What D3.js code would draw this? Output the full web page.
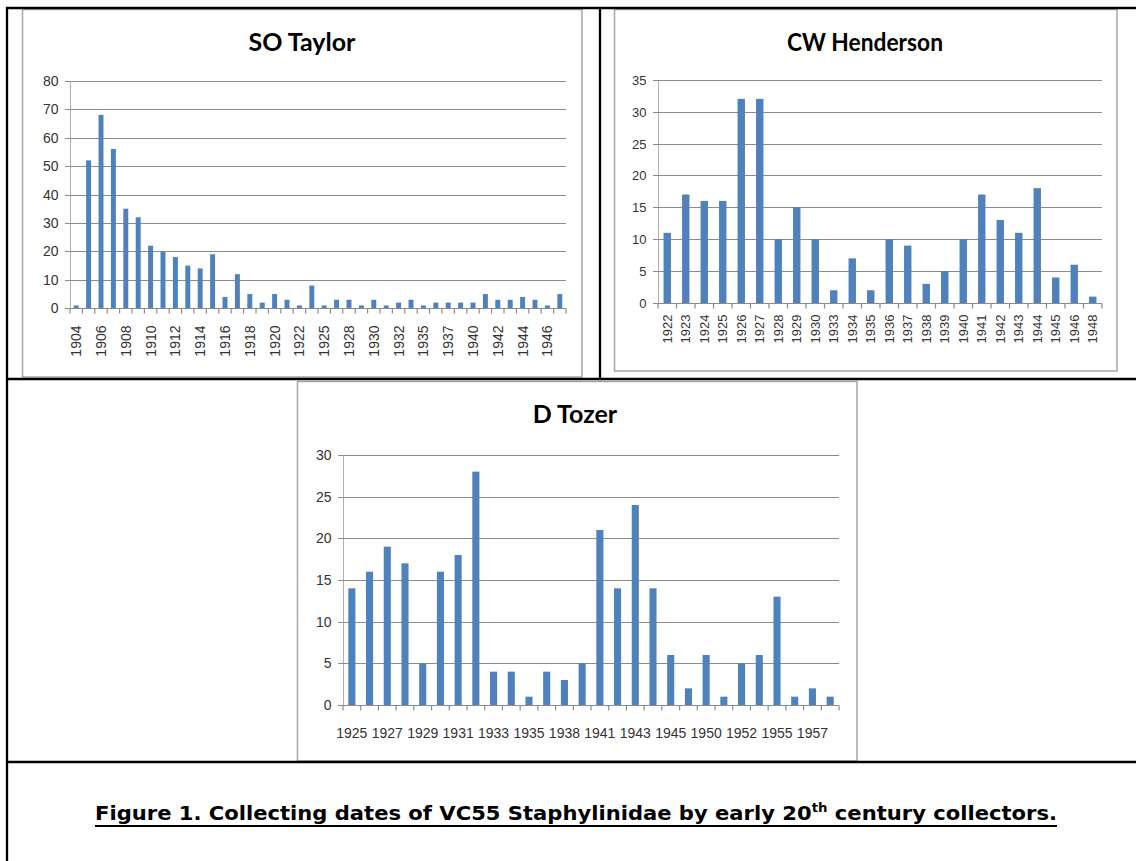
<!DOCTYPE html>
<html><head><meta charset="utf-8">
<script src="https://cdn.jsdelivr.net/npm/d3@7"></script>
<style>body{margin:0;background:#fff} svg{display:block}</style>
</head><body><svg id="c" width="1136" height="861"></svg>
<script>
// ---------- data ----------
const taylorYears = [1904,1905,1906,1907,1908,1909,1910,1911,1912,1913,1914,1915,1916,1917,1918,1919,1920,1921,1922,1923,1925,1926,1928,1929,1930,1931,1932,1934,1935,1936,1937,1938,1940,1941,1942,1943,1944,1945,1946,1947];
const taylorCounts = [1,52,68,56,35,32,22,20,18,15,14,19,4,12,5,2,5,3,1,8,1,3,3,1,3,1,2,3,1,2,2,2,2,5,3,3,4,3,1,5];
const taylorTicks = [0,10,20,30,40,50,60,70,80];

const hendersonYears = [1922,1923,1924,1925,1926,1927,1928,1929,1930,1933,1934,1935,1936,1937,1938,1939,1940,1941,1942,1943,1944,1945,1946,1948];
const hendersonCounts = [11,17,16,16,32,32,10,15,10,2,7,2,10,9,3,5,10,17,13,11,18,4,6,1];
const hendersonTicks = [0,5,10,15,20,25,30,35];

const tozerYears = [1925,1926,1927,1928,1929,1930,1931,1932,1933,1934,1935,1936,1938,1939,1941,1942,1943,1944,1945,1946,1950,1951,1952,1953,1955,1956,1957,1958];
const tozerCounts = [14,16,19,17,5,16,18,28,4,4,1,4,3,5,21,14,24,14,6,2,6,1,5,6,13,1,2,1];
const tozerTicks = [0,5,10,15,20,25,30];

const chartTitles = ["SO Taylor","CW Henderson","D Tozer"];
const captionText = ["Figure 1. Collecting dates of VC55 Staphylinidae by early 20","th"," century collectors."];

// ---------- drawing ----------
const svg = d3.select("#c");
const BAR = "#4f81bd", GRID = "#8c8c8c", YAX = "#b0b0b0", TXT = "#333";
const FONT = "'Liberation Sans', Arial, sans-serif";

function chart(o){
  const g = svg.append("g");
  g.append("rect").attr("x",o.frame[0]).attr("y",o.frame[1])
    .attr("width",o.frame[2]-o.frame[0]).attr("height",o.frame[3]-o.frame[1])
    .attr("fill","#fff").attr("stroke","#a6a6a6").attr("stroke-width",1.5);
  const tt = g.append("text").attr("x",o.titlePos[0]).attr("y",o.titlePos[1])
    .attr("text-anchor","middle").attr("font-family","Lato, 'Open Sans', sans-serif")
    .attr("font-weight",700).attr("font-size",o.titleSize).attr("fill","#000")
    .text(o.title);
  if (o.titleLen) tt.attr("textLength",o.titleLen).attr("lengthAdjust","spacingAndGlyphs");
  const [L,T,R,B] = o.plot;
  const x = d3.scaleBand().domain(o.years).range([L,R]).paddingInner(0.6).paddingOuter(0.3);
  const y = d3.scaleLinear().domain([0, d3.max(o.ticks)]).range([B,T]);
  const ry = v => Math.round(y(v)) + 0.5;
  g.append("g").selectAll("line").data(o.ticks.filter(t=>t>0)).join("line")
    .attr("x1",L-5).attr("x2",R).attr("y1",d=>ry(d)).attr("y2",d=>ry(d))
    .attr("stroke",GRID).attr("stroke-width",1).attr("shape-rendering","crispEdges");
  const ya = g.append("g").attr("transform",`translate(${Math.round(L)+0.5},0)`)
    .call(d3.axisLeft(y).tickValues(o.ticks).tickSize(5).tickPadding(7).tickFormat(d3.format("d")));
  ya.select(".domain").attr("stroke",YAX).attr("stroke-width",1).attr("shape-rendering","crispEdges")
    .attr("d",`M0,${ry(d3.max(o.ticks))}V${ry(0)}`);
  ya.selectAll(".tick").attr("transform",d=>`translate(0,${ry(d)})`);
  ya.selectAll(".tick line").attr("stroke",GRID).attr("stroke-width",1).attr("shape-rendering","crispEdges");
  ya.selectAll(".tick text").attr("font-family",FONT).attr("font-size",o.fs).attr("fill",TXT);
  g.append("g").selectAll("rect").data(o.years.map((yr,i)=>({yr,v:o.counts[i]}))).join("rect")
    .attr("x",d=>x(d.yr)).attr("width",x.bandwidth())
    .attr("y",d=>y(d.v)).attr("height",d=>B-y(d.v)).attr("fill",BAR);
  const xa = g.append("g").attr("transform",`translate(0,${ry(0)})`)
    .call(d3.axisBottom(x).tickSize(0).tickFormat(""));
  xa.select(".domain").attr("stroke",GRID).attr("stroke-width",1).attr("shape-rendering","crispEdges")
    .attr("d",`M${L-5},0H${R}`);
  const step = x.step();
  const bounds = d3.range(o.years.length+1).map(i=>L+i*step);
  xa.selectAll(".btick").data(bounds).join("line").attr("class","btick")
    .attr("x1",d=>d).attr("x2",d=>d).attr("y1",0).attr("y2",5)
    .attr("stroke",GRID).attr("stroke-width",1.2);
  const lab = o.years.filter((d,i)=>i % o.every === 0);
  if (o.rotate){
    xa.selectAll(".lbl").data(lab).join("text").attr("class","lbl")
      .attr("transform",d=>`translate(${x(d)+x.bandwidth()/2},${o.labOff}) rotate(-90)`)
      .attr("text-anchor","end").attr("dy","0.35em")
      .attr("font-family",FONT).attr("font-size",o.fs).attr("fill",TXT).text(d=>d);
  } else {
    xa.selectAll(".lbl").data(lab).join("text").attr("class","lbl")
      .attr("x",d=>x(d)+x.bandwidth()/2).attr("y",o.labOff)
      .attr("text-anchor","middle").attr("dy","0.35em")
      .attr("font-family",FONT).attr("font-size",o.fs).attr("fill",TXT).text(d=>d);
  }
}

chart({frame:[22.5,9.5,582,377], title:chartTitles[0], titlePos:[302,51], titleSize:25,
  plot:[70,80.7,566,308.3], years:taylorYears, counts:taylorCounts, ticks:taylorTicks,
  every:2, rotate:true, labOff:17, fs:14});
chart({frame:[614.5,9.5,1117,371], title:chartTitles[1], titlePos:[865,51], titleSize:25, titleLen:156,
  plot:[658,79.7,1102,303], years:hendersonYears, counts:hendersonCounts, ticks:hendersonTicks,
  every:1, rotate:true, labOff:11, fs:13});
chart({frame:[297.5,381.5,857,761], title:chartTitles[2], titlePos:[575,423], titleSize:25,
  plot:[343,455,839,705], years:tozerYears, counts:tozerCounts, ticks:tozerTicks,
  every:2, rotate:false, labOff:28, fs:14});

const bl = svg.append("g").attr("stroke","#000").attr("stroke-width",2.3);
bl.append("line").attr("x1",6).attr("x2",1136).attr("y1",8).attr("y2",8);
bl.append("line").attr("x1",7).attr("x2",7).attr("y1",7).attr("y2",861);
bl.append("line").attr("x1",600).attr("x2",600).attr("y1",8).attr("y2",379);
bl.append("line").attr("x1",6).attr("x2",1136).attr("y1",379).attr("y2",379);
bl.append("line").attr("x1",6).attr("x2",1136).attr("y1",762).attr("y2",762);

const cap = svg.append("text").attr("x",95).attr("y",820)
  .attr("font-family","'DejaVu Sans', sans-serif").attr("font-weight",700)
  .attr("font-size",19).attr("fill","#000");
cap.append("tspan").text(captionText[0]);
cap.append("tspan").attr("font-size",12).attr("dy",-8).text(captionText[1]);
cap.append("tspan").attr("dy",8).text(captionText[2]);
cap.attr("textLength",962).attr("lengthAdjust","spacingAndGlyphs");
svg.append("line").attr("x1",95).attr("x2",1057).attr("y1",826).attr("y2",826)
  .attr("stroke","#000").attr("stroke-width",1.8);
</script></body></html>
